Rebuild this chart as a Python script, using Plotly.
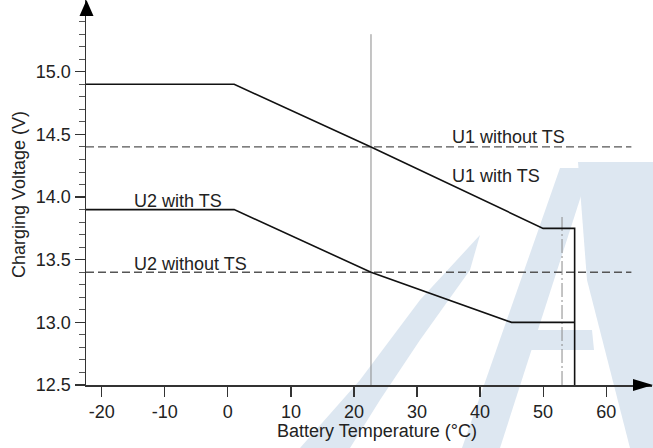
import plotly.graph_objects as go

# ---------------- data ----------------
u1_temp = [-22.5, 1, 22.7, 50, 55, 55]
u1_with_ts = [14.9, 14.9, 14.4, 13.75, 13.75, 12.5]
u2_temp = [-22.5, 1, 22.7, 45, 55]
u2_with_ts = [13.9, 13.9, 13.4, 13.0, 13.0]
without_temp = [-22.5, 64]
u1_without_ts = [14.4, 14.4]
u2_without_ts = [13.4, 13.4]
ref_line_temp = [22.7, 22.7]
ref_line_volt = [12.5, 15.3]
sensor_temp = [53, 53]
sensor_volt = [12.5, 13.85]

x_tickvals = [-20, -10, 0, 10, 20, 30, 40, 50, 60]
x_ticktext = ["-20", "-10", "0", "10", "20", "30", "40", "50", "60"]
y_tickvals = [12.5, 13.0, 13.5, 14.0, 14.5, 15.0]
y_ticktext = ["12.5", "13.0", "13.5", "14.0", "14.5", "15.0"]
y_minor = [12.6, 12.7, 12.8, 12.9, 13.1, 13.2, 13.3, 13.4, 13.6, 13.7, 13.8, 13.9,
           14.1, 14.2, 14.3, 14.4, 14.6, 14.7, 14.8, 14.9, 15.1, 15.2, 15.3, 15.4]

labels = ["U1 without TS", "U1 with TS", "U2 with TS", "U2 without TS"]
label_x = [35.2, 35.2, -15.2, -15.2]
label_y = [14.483, 14.168, 13.97, 13.468]

# ---------------- layout geometry ----------------
W, H = 653, 448
ML, MR, MT, MB = 86, 1, 0, 63
PW, PH = W - ML - MR, H - MT - MB
X_RANGE = [-22.5, 67.27]
Y_RANGE = [12.5, 15.573]

FONT = "Liberation Sans, Arial, sans-serif"
TXT = "#222222"
WM = "#dde7f1"


def px(xp, yp):
    """pixel -> paper coordinates (for decorations only)"""
    return (xp - ML) / PW, (H - MB - yp) / PH


def path(points):
    s = ""
    for i, (a, b) in enumerate(points):
        xx, yy = px(a, b)
        s += ("M" if i == 0 else "L") + f"{xx:.5f},{yy:.5f} "
    return s + "Z"


fig = go.Figure()

# ---- faint watermark (decoration) ----
wm_polys = [
    # big "A": left stroke
    [(462, 448), (500, 448), (590, 168), (560, 168)],
    # big "A": right body
    [(578, 162), (653, 162), (653, 448), (630, 448), (587, 280)],
    # crossbar
    [(520, 330), (592, 330), (594, 350), (514, 350)],
    # swoosh
    [(300, 448), (360, 380), (420, 300), (480, 235), (470, 270), (420, 340),
     (380, 400), (350, 448)],
]
for poly in wm_polys:
    fig.add_shape(type="path", xref="paper", yref="paper", layer="below",
                  path=path(poly), fillcolor=WM, line=dict(width=0))

fig.add_trace(go.Scatter(x=without_temp, y=u1_without_ts, mode="lines",
                         line=dict(color="#555555", width=1.3, dash="8px,4px"),
                         hoverinfo="skip"))
fig.add_trace(go.Scatter(x=without_temp, y=u2_without_ts, mode="lines",
                         line=dict(color="#555555", width=1.3, dash="8px,4px"),
                         hoverinfo="skip"))
fig.add_trace(go.Scatter(x=ref_line_temp, y=ref_line_volt, mode="lines",
                         line=dict(color="#8a8a8a", width=1), hoverinfo="skip"))
fig.add_trace(go.Scatter(x=sensor_temp, y=sensor_volt, mode="lines",
                         line=dict(color="#8a8a8a", width=1, dash="14px,3px,2px,3px"),
                         hoverinfo="skip"))
fig.add_trace(go.Scatter(x=u1_temp, y=u1_with_ts, mode="lines",
                         line=dict(color="#111111", width=1.6), hoverinfo="skip"))
fig.add_trace(go.Scatter(x=u2_temp, y=u2_with_ts, mode="lines",
                         line=dict(color="#111111", width=1.6), hoverinfo="skip"))

for t, xx, yy in zip(labels, label_x, label_y):
    fig.add_annotation(x=xx, y=yy, text=t, showarrow=False, xanchor="left",
                       yanchor="middle", font=dict(family=FONT, size=18, color=TXT))

# axis titles
fig.add_annotation(xref="paper", yref="paper", x=px(377, 0)[0], y=px(0, 431)[1],
                   text="Battery Temperature (°C)", showarrow=False,
                   xanchor="center", yanchor="middle",
                   font=dict(family=FONT, size=18, color=TXT))
fig.add_annotation(xref="paper", yref="paper", x=px(19, 0)[0], y=px(0, 195)[1],
                   text="Charging Voltage (V)", showarrow=False, textangle=-90,
                   xanchor="center", yanchor="middle",
                   font=dict(family=FONT, size=18, color=TXT))

# arrow heads
fig.add_shape(type="path", xref="paper", yref="paper", layer="above",
              path=path([(86.5, 0), (79.5, 16), (93.5, 16)]),
              fillcolor="#000000", line=dict(width=0))
fig.add_shape(type="path", xref="paper", yref="paper", layer="above",
              path=path([(653, 385), (633, 379), (633, 391)]),
              fillcolor="#000000", line=dict(width=0))

fig.update_layout(
    template="none",
    width=W, height=H,
    margin=dict(l=ML, r=MR, t=MT, b=MB, autoexpand=False),
    paper_bgcolor="white", plot_bgcolor="white",
    showlegend=False,
    font=dict(family=FONT, size=18, color=TXT),
    xaxis=dict(range=X_RANGE, showgrid=False, zeroline=False, showline=True,
               automargin=False,
               linecolor="#333333", linewidth=1.5, ticks="outside", ticklen=10,
               tickcolor="#333333", tickwidth=1.2, tickmode="array",
               tickvals=x_tickvals, ticktext=x_ticktext,
               tickfont=dict(family=FONT, size=18, color=TXT)),
    yaxis=dict(range=Y_RANGE, showgrid=False, zeroline=False, showline=True,
               automargin=False,
               linecolor="#333333", linewidth=1.5, ticks="outside", ticklen=10,
               tickcolor="#333333", tickwidth=1.2, tickmode="array",
               tickvals=y_tickvals, ticktext=y_ticktext,
               tickfont=dict(family=FONT, size=18, color=TXT),
               minor=dict(tickmode="array", tickvals=y_minor, ticks="outside",
                          ticklen=6, tickcolor="#555555", tickwidth=1)),
)

fig.write_html("out.html",
               config={"displayModeBar": False, "staticPlot": True},
               post_script="document.body.style.margin='0';"
                           "document.body.style.padding='0';")
